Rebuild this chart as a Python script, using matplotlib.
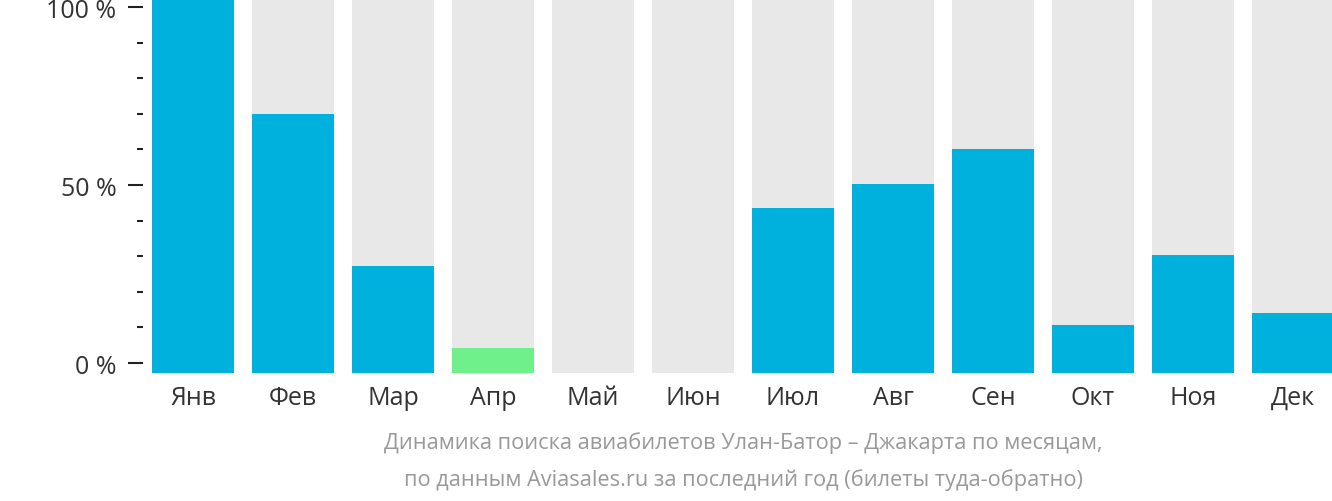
import matplotlib.pyplot as plt
from matplotlib.ticker import MultipleLocator, FixedLocator

plt.rcParams['font.family'] = ['Open Sans', 'DejaVu Sans']

months = ['Янв', 'Фев', 'Мар', 'Апр', 'Май', 'Июн',
          'Июл', 'Авг', 'Сен', 'Окт', 'Ноя', 'Дек']
values = [100, 69.3, 28.6, 6.7, 0, 0, 44.1, 50.5, 59.9, 12.8, 31.6, 16.0]
highlight = 'Апр'

blue = '#00b0dd'
green = '#6ff08a'
grey = '#e8e8e8'

fig = plt.figure(figsize=(13.32, 5.02), dpi=100)
# axes box: x 143..1343 px, y 0..374 px from top
ax = fig.add_axes([143 / 1332, 128 / 502, 1200 / 1332, 374 / 502])
bars = ax.twinx()

x = range(len(months))
bars.bar(x, [100] * len(months), width=0.82, color=grey, zorder=1)
colors = [green if m == highlight else blue for m in months]
bars.bar(x, values, width=0.82, color=colors, zorder=2)
bars.set_ylim(0, 100)
bars.set_yticks([])
bars.set_xlim(-0.5, 11.5)

# tick scale is slightly inset from the bar area (0 % at 364 px, 100 % at 8 px)
lo = -(374 - 364) / 356 * 100
hi = 100 + 8 / 356 * 100
ax.set_ylim(lo, hi)
ax.set_xlim(-0.5, 11.5)
ax.yaxis.set_major_locator(FixedLocator([0, 50, 100]))
ax.yaxis.set_minor_locator(MultipleLocator(10))
ax.set_yticklabels(['0 %', '50 %', '100 %'])
ax.tick_params(axis='y', which='major', length=11, width=1.5, color='#222222',
               labelsize=18, labelcolor='#333333', pad=8)
ax.tick_params(axis='y', which='minor', length=4.3, width=1.5, color='#222222')
ax.set_xticks(list(x))
ax.set_xticklabels(months)
ax.tick_params(axis='x', length=0, labelsize=18, labelcolor='#333333', pad=8.5)
for a in (ax, bars):
    for s in a.spines.values():
        s.set_visible(False)

fig.text(743 / 1332, 1 - 443 / 502, 'Динамика поиска авиабилетов Улан-Батор – Джакарта по месяцам,',
         ha='center', va='center', fontsize=15.7, color='#999999')
fig.text(743 / 1332, 1 - 480 / 502, 'по данным Aviasales.ru за последний год (билеты туда-обратно)',
         ha='center', va='center', fontsize=15.7, color='#999999')

fig.savefig('out.png', dpi=100)
